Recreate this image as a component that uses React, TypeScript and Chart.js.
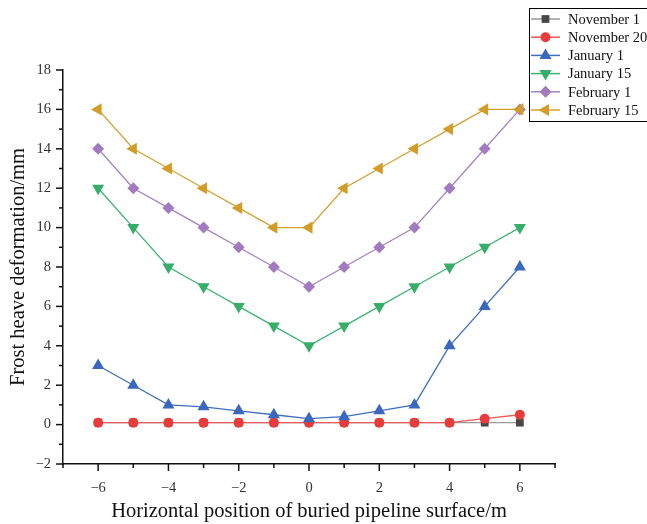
import React, { useEffect, useRef } from 'react';
import { Chart, registerables } from 'chart.js';

Chart.register(...registerables);

const xPositions = [-6, -5, -4, -3, -2, -1, 0, 1, 2, 3, 4, 5, 6];
const seriesNames = ['November 1', 'November 20', 'January 1', 'January 15', 'February 1', 'February 15'];
const nov1 = [0.1, 0.1, 0.1, 0.1, 0.1, 0.1, 0.1, 0.1, 0.1, 0.1, 0.1, 0.1, 0.1];
const nov20 = [0.1, 0.1, 0.1, 0.1, 0.1, 0.1, 0.1, 0.1, 0.1, 0.1, 0.1, 0.3, 0.5];
const jan1 = [3, 2, 1, 0.9, 0.7, 0.5, 0.3, 0.4, 0.7, 1, 4, 6, 8];
const jan15 = [12, 10, 8, 7, 6, 5, 4, 5, 6, 7, 8, 9, 10];
const feb1 = [14, 12, 11, 10, 9, 8, 7, 8, 9, 10, 12, 14, 16];
const feb15 = [16, 14, 13, 12, 11, 10, 10, 12, 13, 14, 15, 16, 16];
const seriesValues = [nov1, nov20, jan1, jan15, feb1, feb15];

const xMin = -7;
const xMax = 7;
const yMin = -2;
const yMax = 18;
const xTitle = 'Horizontal position of buried pipeline surface/m';
const yTitle = 'Frost heave deformation/mm';

const lineColors = ['#9a9a9a', '#e85a5a', '#3f6fbf', '#3db470', '#a880c4', '#d4a030'];
const markerColors = ['#474747', '#e83c3c', '#3a68bd', '#36ad68', '#a27bbf', '#d19c28'];
const pointStyles = ['rect', 'circle', 'triangle', 'triangle', 'rectRot', 'triangle'];
const pointRotations = [0, 0, 0, 180, 0, 270];
const pointRadii = [5.5, 5, 7, 7, 6, 7];

const serif = "'Liberation Serif', 'Times New Roman', serif";

function drawMarker(ctx: CanvasRenderingContext2D, style: string, rot: number, r: number, x: number, y: number) {
  ctx.beginPath();
  if (style === 'circle') {
    ctx.arc(x, y, r, 0, Math.PI * 2);
  } else if (style === 'rect') {
    const s = Math.SQRT1_2 * r;
    ctx.rect(x - s, y - s, 2 * s, 2 * s);
  } else if (style === 'rectRot') {
    ctx.moveTo(x, y - r);
    ctx.lineTo(x + r, y);
    ctx.lineTo(x, y + r);
    ctx.lineTo(x - r, y);
    ctx.closePath();
  } else {
    let a = (rot * Math.PI) / 180 - Math.PI / 2;
    for (let k = 0; k < 3; k++) {
      const px = x + Math.cos(a) * r;
      const py = y + Math.sin(a) * r;
      if (k === 0) ctx.moveTo(px, py); else ctx.lineTo(px, py);
      a += (2 * Math.PI) / 3;
    }
    ctx.closePath();
  }
  ctx.fill();
}

const axisPlugin = {
  id: 'axisTicks',
  afterDraw(chart: any) {
    const ctx = chart.ctx as CanvasRenderingContext2D;
    const xs = chart.scales.x;
    const ys = chart.scales.y;
    const area = chart.chartArea;
    ctx.save();
    ctx.strokeStyle = '#111';
    ctx.lineWidth = 1.5;
    xs.ticks.forEach((t: any) => {
      const px = xs.getPixelForValue(t.value);
      const len = Math.round(t.value) % 2 === 0 ? 7 : 4;
      ctx.beginPath();
      ctx.moveTo(px, area.bottom);
      ctx.lineTo(px, area.bottom + len);
      ctx.stroke();
    });
    ys.ticks.forEach((t: any) => {
      const py = ys.getPixelForValue(t.value);
      const len = Math.round(t.value) % 2 === 0 ? 7 : 4;
      ctx.beginPath();
      ctx.moveTo(area.left, py);
      ctx.lineTo(area.left - len, py);
      ctx.stroke();
    });
    ctx.restore();

    // legend
    const lx = 529.5;
    const ly = 8.5;
    const lw = 130;
    const lh = 113;
    ctx.save();
    ctx.fillStyle = '#fff';
    ctx.fillRect(lx, ly, lw, lh);
    ctx.strokeStyle = '#000';
    ctx.lineWidth = 1;
    ctx.strokeRect(lx, ly, lw, lh);
    ctx.font = `14.5px ${serif}`;
    ctx.textBaseline = 'middle';
    ctx.textAlign = 'left';
    seriesNames.forEach((name, i) => {
      const cy = 19 + i * 18.2;
      ctx.strokeStyle = lineColors[i];
      ctx.lineWidth = 1.5;
      ctx.beginPath();
      ctx.moveTo(531, cy);
      ctx.lineTo(560, cy);
      ctx.stroke();
      ctx.fillStyle = markerColors[i];
      drawMarker(ctx, pointStyles[i], pointRotations[i], pointRadii[i], 545.5, cy);
      ctx.fillStyle = '#111';
      ctx.fillText(name, 568, cy + 1);
    });
    ctx.restore();
  },
};

const fmt = (v: number) => {
  const r = Math.round(v);
  if (r % 2 !== 0) return '';
  return r < 0 ? '\u2212' + Math.abs(r) : String(r);
};

export default function App() {
  const ref = useRef<HTMLCanvasElement | null>(null);
  useEffect(() => {
    if (!ref.current) return;
    const datasets = seriesValues.map((vals, i) => ({
      label: seriesNames[i],
      data: xPositions.map((x, j) => ({ x, y: vals[j] })),
      borderColor: lineColors[i],
      backgroundColor: markerColors[i],
      pointBackgroundColor: markerColors[i],
      pointBorderColor: markerColors[i],
      pointBorderWidth: 0,
      borderWidth: 1.3,
      pointStyle: pointStyles[i],
      pointRotation: pointRotations[i],
      pointRadius: pointRadii[i],
      pointHoverRadius: pointRadii[i],
      tension: 0,
      order: 6 - i,
      clip: false as any,
    }));
    const chart = new Chart(ref.current, {
      type: 'line',
      data: { datasets },
      plugins: [axisPlugin],
      options: {
        responsive: false,
        animation: false,
        events: [],
        layout: { padding: { top: 70, right: 92, left: 0, bottom: 0 } },
        plugins: { legend: { display: false }, tooltip: { enabled: false } },
        scales: {
          x: {
            type: 'linear',
            min: xMin,
            max: xMax,
            afterFit: (s: any) => { s.height = 60; },
            grid: { display: false, drawTicks: false },
            border: { display: true, color: '#111', width: 1.5 },
            ticks: {
              stepSize: 1,
              autoSkip: false,
              maxRotation: 0,
              padding: 15,
              color: '#333',
              font: { family: serif, size: 14.5 },
              callback: (v: any) => fmt(Number(v)),
            },
            title: {
              display: true,
              text: xTitle,
              color: '#111',
              font: { family: serif, size: 20.5 },
              padding: { top: 0, bottom: 0 },
            },
          },
          y: {
            type: 'linear',
            min: yMin,
            max: yMax,
            afterFit: (s: any) => { s.width = 63; },
            grid: { display: false, drawTicks: false },
            border: { display: true, color: '#111', width: 1.5 },
            ticks: {
              stepSize: 1,
              autoSkip: false,
              padding: 12,
              color: '#333',
              font: { family: serif, size: 14.5 },
              callback: (v: any) => fmt(Number(v)),
            },
            title: {
              display: true,
              text: yTitle,
              color: '#111',
              font: { family: serif, size: 20.5 },
              padding: { top: 6, bottom: 0 },
            },
          },
        },
      },
    });
    return () => chart.destroy();
  }, []);
  return (
    <div style={{ position: 'absolute', left: 0, top: 0, width: 647, height: 524, background: '#fff' }}>
      <canvas ref={ref} width={647} height={524} style={{ display: 'block' }} />
    </div>
  );
}
